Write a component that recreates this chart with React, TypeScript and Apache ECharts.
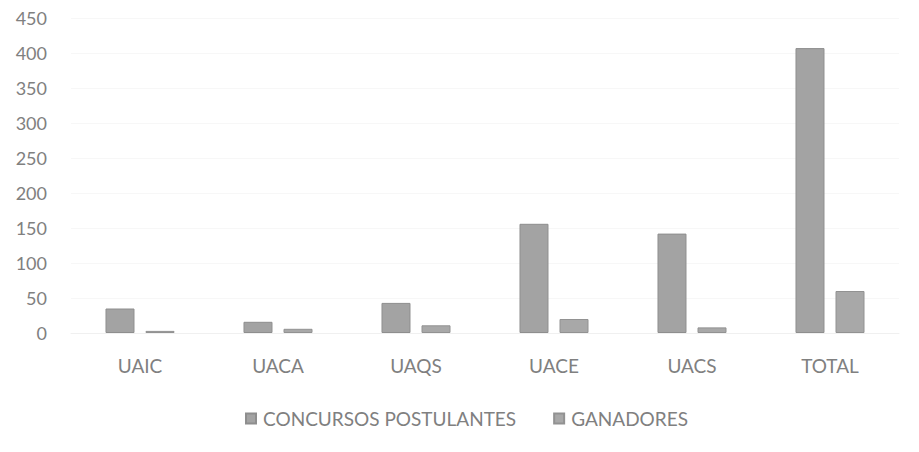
import React, { useEffect, useRef } from "react";
import * as echarts from "echarts";

const categories = ["UAIC", "UACA", "UAQS", "UACE", "UACS", "TOTAL"];
const postulantes = [35, 16, 43, 156, 142, 407];
const ganadores = [3, 6, 11, 20, 8, 60];
const seriesNames = ["CONCURSOS POSTULANTES", "GANADORES"];

export default function App() {
  const ref = useRef<HTMLDivElement>(null);
  useEffect(() => {
    document.body.style.margin = "0";
    const chart = echarts.init(ref.current!, null, { renderer: "svg" });
    const font = "Lato, 'Open Sans', sans-serif";
    const textColor = "#808080";
    chart.setOption({
      animation: false,
      backgroundColor: "#ffffff",
      textStyle: { fontFamily: font },
      grid: { left: 71, right: 20, top: 18, bottom: 119, containLabel: false },
      legend: {
        top: 404,
        left: 240,
        itemWidth: 10,
        itemHeight: 10,
        itemGap: 37,
        icon: "rect",
        textStyle: { color: textColor, fontSize: 19, fontFamily: font, padding: [0, 0, 0, 2] },
        data: seriesNames,
      },
      xAxis: {
        type: "category",
        data: categories,
        axisTick: { show: false },
        axisLine: { lineStyle: { color: "#f0f0f0" } },
        axisLabel: { color: textColor, fontSize: 19, margin: 23, fontFamily: font },
      },
      yAxis: {
        type: "value",
        min: 0,
        max: 450,
        interval: 50,
        axisLine: { show: false },
        axisTick: { show: false },
        splitLine: { lineStyle: { color: "#f7f7f7" } },
        axisLabel: { color: textColor, fontSize: 18, margin: 24, fontFamily: font },
      },
      series: [
        {
          name: seriesNames[0],
          type: "bar",
          data: postulantes,
          barWidth: 29,
          barGap: "38%",
          itemStyle: { color: "#a3a3a3", borderColor: "#8e8e8e", borderWidth: 1 },
        },
        {
          name: seriesNames[1],
          type: "bar",
          data: ganadores,
          barWidth: 29,
          itemStyle: { color: "#a8a8a8", borderColor: "#929292", borderWidth: 1 },
        },
      ],
    });
    return () => chart.dispose();
  }, []);
  return <div ref={ref} style={{ width: 919, height: 452 }} />;
}
